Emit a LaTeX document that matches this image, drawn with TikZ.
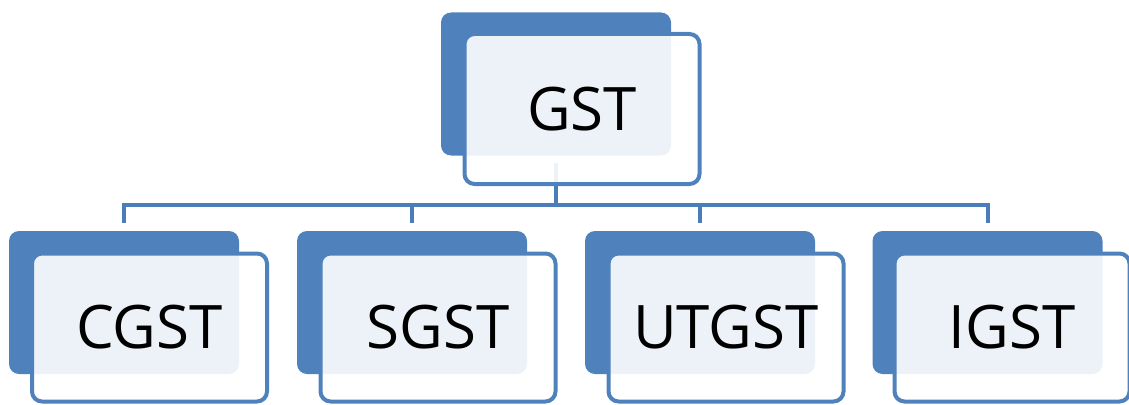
\documentclass[tikz,border=0pt]{standalone}
\usepackage{fontspec}
\setmainfont{Open Sans}
\usetikzlibrary{backgrounds}
\definecolor{boxblue}{HTML}{4F81BD}
\definecolor{linkblue}{HTML}{4A7DBA}
\tikzset{
  backbox/.style={rectangle, rounded corners=10pt, fill=boxblue, inner sep=0pt, outer sep=0pt,
    minimum width=230pt, minimum height=143pt},
  frontbox/.style={rectangle, rounded corners=10pt, draw=boxblue, line width=4pt,
    fill=white, fill opacity=0.9, text opacity=1, inner sep=0pt, outer sep=0pt,
    minimum width=235pt, minimum height=148pt, font=\fontsize{60}{72}\selectfont},
  conn/.style={draw=linkblue, line width=4pt},
}
\begin{document}
\begin{tikzpicture}[x=1pt, y=-1pt]
  \useasboundingbox (0,0) rectangle (1129,404);
  % root
  \node[backbox] (gstb) at (556,84) {};
  \node[frontbox, minimum height=150pt] (gst) at (582,109) {GST};
  % children
  \node[backbox] (cgstb) at (124,302.5) {};
  \node[frontbox] (cgst) at (149.5,327.5) {CGST};
  \node[backbox] (sgstb) at (412,302.5) {};
  \node[frontbox] (sgst) at (438,327.5) {SGST};
  \node[backbox] (utgstb) at (700,302.5) {};
  \node[frontbox] (utgst) at (726,327.5) {UTGST};
  \node[backbox] (igstb) at (987.5,302.5) {};
  \node[frontbox] (igst) at (1012,327.5) {IGST};
  % connectors
  \coordinate (bus) at (0,205);
  \begin{pgfonlayer}{background}
    \draw[conn, line cap=rect] (cgstb.north |- bus) -- (igstb.north |- bus);
    \draw[conn, shorten <=7pt] (gstb.south) -- (gstb.south |- bus);
    \foreach \n in {cgstb,sgstb,utgstb,igstb}
      \draw[conn, shorten >=8pt] (\n.north |- bus) -- (\n.north);
  \end{pgfonlayer}
\end{tikzpicture}
\end{document}
